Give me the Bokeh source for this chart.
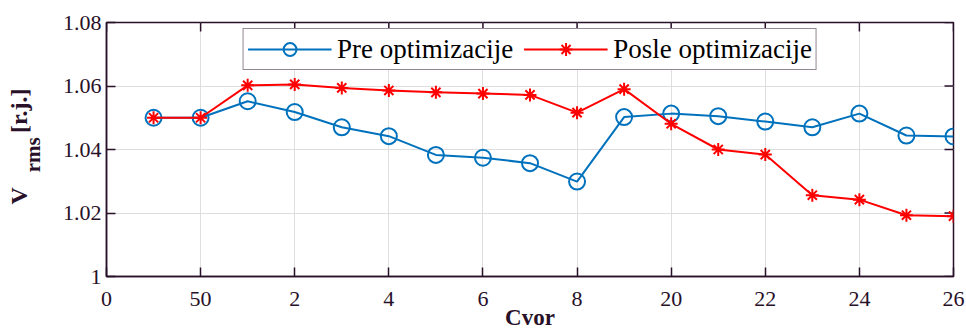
import math
from bokeh.plotting import figure
from bokeh.models import LinearAxis, FixedTicker, NumeralTickFormatter, Range1d
from bokeh.embed import file_html
from bokeh.resources import INLINE

# ---- data ----
nodes = list(range(1, 19))
pre_opt = [1.0500, 1.0500, 1.0552, 1.0518, 1.0470, 1.0442, 1.0383, 1.0374, 1.0357,
           1.0299, 1.0502, 1.0513, 1.0505, 1.0488, 1.0470, 1.0513, 1.0444, 1.0441]
posle_opt = [1.0500, 1.0500, 1.0602, 1.0605, 1.0594, 1.0586, 1.0580, 1.0576, 1.0572,
             1.0516, 1.0590, 1.0481, 1.0400, 1.0384, 1.0256, 1.0242, 1.0193, 1.0190]
x_ticks = [0, 2, 4, 6, 8, 10, 12, 14, 16, 18]
x_tick_labels = ["0", "50", "2", "4", "6", "8", "20", "22", "24", "26"]
y_ticks = [1.0, 1.02, 1.04, 1.06, 1.08]

DARK = "#281028"
BLUE = "#0072BD"
RED = "#FF0000"
FONT = "Liberation Serif"
NBSP = "\u00a0"

X0, X1 = 0, 18
Y0, Y1 = 1.0, 1.08

p = figure(width=966, height=332, x_range=Range1d(X0, X1), y_range=Range1d(Y0, Y1),
           output_backend="svg", toolbar_location=None,
           min_border_left=106, min_border_right=13, min_border_top=22, min_border_bottom=56)
p.background_fill_color = "white"
p.border_fill_color = "white"
p.outline_line_color = DARK
p.outline_line_width = 1.5

xt = FixedTicker(ticks=x_ticks)
yt = FixedTicker(ticks=y_ticks)

bottom = p.below[0]
left = p.left[0]
bottom.ticker = xt
left.ticker = yt
bottom.major_label_overrides = {t: l for t, l in zip(x_ticks, x_tick_labels)}
left.formatter = NumeralTickFormatter(format="0.[00]")

for ax in (bottom, left):
    ax.axis_line_color = DARK
    ax.axis_line_width = 1.5
    ax.major_tick_line_color = DARK
    ax.major_tick_line_width = 1.5
    ax.major_tick_in = 9
    ax.major_tick_out = 0
    ax.minor_tick_line_color = None
    ax.major_label_text_font = FONT
    ax.major_label_text_font_size = "22px"
    ax.major_label_text_color = DARK
bottom.major_label_standoff = 15
left.major_label_standoff = 5

bottom.axis_label = "Cvor"
bottom.axis_label_text_font = FONT
bottom.axis_label_text_font_style = "bold"
bottom.axis_label_text_font_size = "23px"
bottom.axis_label_text_color = DARK
bottom.axis_label_standoff = -4

# y-axis title: "V" with subscript "rms" and unit "[r.j.]"
rms_ax = LinearAxis(ticker=FixedTicker(ticks=[]), axis_label="rms" + NBSP * 2)
v_ax = LinearAxis(ticker=FixedTicker(ticks=[]), axis_label=NBSP + "V" + NBSP * 9 + "[r.j.]")
for ax, size, standoff in ((rms_ax, "21px", 15), (v_ax, "24px", -14)):
    ax.axis_line_color = None
    ax.major_tick_line_color = None
    ax.minor_tick_line_color = None
    ax.major_tick_in = 0
    ax.major_tick_out = 0
    ax.minor_tick_in = 0
    ax.minor_tick_out = 0
    ax.major_label_standoff = 0
    ax.axis_label_text_font = FONT
    ax.axis_label_text_font_style = "bold"
    ax.axis_label_text_font_size = size
    ax.axis_label_text_color = DARK
    ax.axis_label_standoff = standoff
    p.add_layout(ax, "left")

# inner ticks on the top and right edges of the box
p.ray(x=x_ticks, y=[Y1] * len(x_ticks), length=9, length_units="screen",
      angle=-math.pi / 2, line_color=DARK, line_width=1.5)
p.ray(x=[X1] * len(y_ticks), y=y_ticks, length=9, length_units="screen",
      angle=math.pi, line_color=DARK, line_width=1.5)

p.xgrid.ticker = xt
p.ygrid.ticker = yt
p.grid.grid_line_color = "#dedede"
p.grid.grid_line_width = 1

# ---- series ----
p.line(nodes, pre_opt, color=BLUE, line_width=2, legend_label="Pre optimizacije")
p.scatter(nodes, pre_opt, marker="circle", size=16, line_color=BLUE, line_width=2,
          fill_color=None, legend_label="Pre optimizacije")
p.line(nodes, posle_opt, color=RED, line_width=2, legend_label="Posle optimizacije")
p.scatter(nodes, posle_opt, marker="asterisk", size=13, line_color=RED, line_width=2,
          legend_label="Posle optimizacije")

lg = p.legend[0]
lg.location = "top_center"
lg.orientation = "horizontal"
lg.label_text_font = FONT
lg.label_text_font_size = "27px"
lg.label_text_color = "black"
lg.glyph_width = 84
lg.glyph_height = 32
lg.label_standoff = 6
lg.spacing = 10
lg.padding = 4
lg.margin = 6
lg.border_line_color = DARK
lg.border_line_width = 1.5
lg.background_fill_alpha = 1.0

open("out.html", "w").write(file_html(p, INLINE))
